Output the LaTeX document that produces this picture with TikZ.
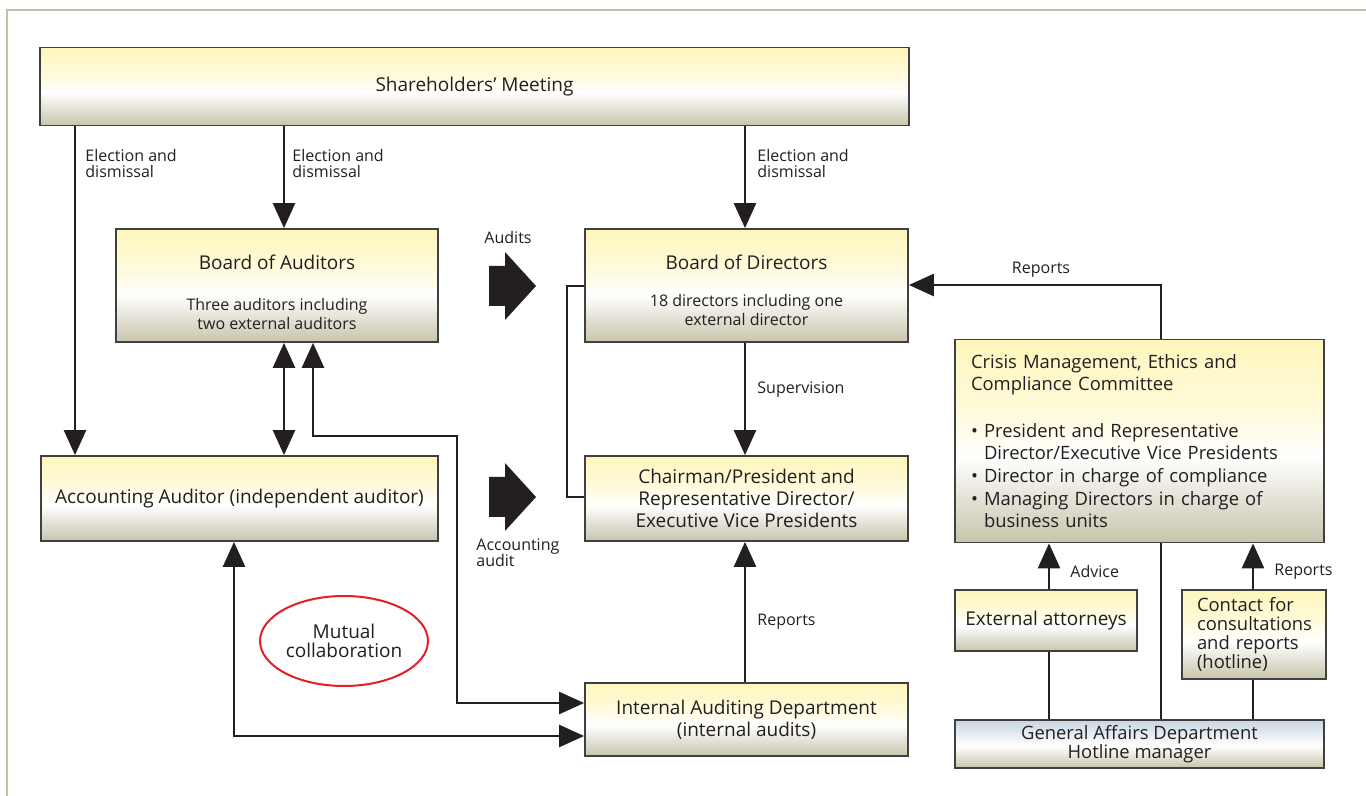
\documentclass[tikz,border=0pt]{standalone}
\usepackage{fontspec}
\setmainfont{Open Sans}
\usetikzlibrary{arrows.meta,shapes.geometric}
\definecolor{boxtop}{RGB}{255,246,188}
\definecolor{boxbot}{RGB}{200,196,172}
\definecolor{gatop}{RGB}{200,214,226}
\definecolor{boxline}{RGB}{64,64,64}
\definecolor{frameline}{RGB}{198,190,170}
\definecolor{mutualred}{RGB}{228,30,38}
\definecolor{ink}{RGB}{35,31,32}
\pgfdeclareverticalshading{boxshade}{100bp}{color(0bp)=(boxbot); color(25bp)=(boxbot); color(46bp)=(white); color(58bp)=(boxtop!55!white); color(75bp)=(boxtop); color(100bp)=(boxtop)}
\pgfdeclareverticalshading{gashade}{100bp}{color(0bp)=(boxbot); color(25bp)=(boxbot); color(48bp)=(white); color(75bp)=(gatop); color(100bp)=(gatop)}
\newcommand\boxfont{\fontsize{9.5}{11}\selectfont}
\newcommand\subfont{\fontsize{8}{9.5}\selectfont}
\newcommand\labfont{\fontsize{8}{8.2}\selectfont}

\begin{document}
\begin{tikzpicture}[x=0.5pt,y=-0.5pt,
  orgbox/.style={draw=boxline,line width=0.9pt,shading=boxshade,inner sep=0pt,font=\boxfont,align=center,text=ink},
  lab/.style={inner sep=0pt,font=\labfont,align=left,text=ink},
  link/.style={draw=ink,line width=1.3pt},
  flow/.style={link,-{Triangle[length=12.5pt,width=11pt]}},
  twoway/.style={link,{Triangle[length=12.5pt,width=11pt]}-{Triangle[length=12.5pt,width=11pt]}}]
\useasboundingbox (0,0) rectangle (1366,796);
\draw[frameline,line width=1pt] (7,796) -- (7,10) -- (1366,10);
% boxes
\node[orgbox,minimum width=434.5pt,minimum height=39pt] (sm) at (474.5,86.5) {Shareholders' Meeting};
\node[orgbox,minimum width=161pt,minimum height=56.5pt,text height=44.5pt,text depth=0pt] (boa) at (277,285.5) {Board of Auditors\\[9.5pt]\subfont Three auditors including\\[-1.5pt]\subfont two external auditors};
\node[orgbox,minimum width=161.5pt,minimum height=56.5pt,text height=40.5pt,text depth=0pt] (bod) at (746.5,285.5) {Board of Directors\\[7.5pt]\subfont 18 directors including one\\[-1.5pt]\subfont external director};
\node[orgbox,minimum width=198.5pt,minimum height=42.5pt] (aa) at (239.5,498.5) {Accounting Auditor (independent auditor)};
\node[orgbox,minimum width=161.5pt,minimum height=42.5pt] (chair) at (746.5,498.5) {Chairman/President and\\Representative Director/\\Executive Vice Presidents};
\node[orgbox,minimum width=161.5pt,minimum height=36.5pt] (iad) at (746.5,719.5) {Internal Auditing Department\\(internal audits)};
\node[orgbox,minimum width=184.5pt,minimum height=101.5pt,align=left,text width=168.5pt,font=\fontsize{9.2}{11.3}\selectfont] (cmc) at (1139.5,441) {Crisis Management, Ethics and\\Compliance Committee\\[12pt]\textbullet\ President and Representative\\\phantom{\textbullet\ }Director/Executive Vice Presidents\\\textbullet\ Director in charge of compliance\\\textbullet\ Managing Directors in charge of\\\phantom{\textbullet\ }business units};
\node[orgbox,minimum width=91pt,minimum height=30.5pt] (ext) at (1046,620.5) {External attorneys};
\node[orgbox,minimum width=72pt,minimum height=44.5pt,align=left,text width=57pt,font=\fontsize{9.2}{9.5}\selectfont] (hot) at (1254,634.5) {Contact for\\consultations\\and reports\\(hotline)};
\node[orgbox,shading=gashade,minimum width=184.5pt,minimum height=24pt,font=\fontsize{9.2}{9.5}\selectfont] (gad) at (1139.5,744) {General Affairs Department\\Hotline manager};
\node[ellipse,draw=mutualred,line width=1pt,minimum width=84pt,minimum height=45pt,inner sep=0pt,align=center,text=ink,font=\fontsize{9.5}{9.5}\selectfont] (mutual) at (344,641) {Mutual\\collaboration};
% turning points of the connectors
\coordinate (colSA) at (75,0);
\coordinate (colSB) at (284,0);
\coordinate (colC) at (745,0);
\coordinate (colE) at (1049,0);
\coordinate (colH) at (1253,0);
\coordinate (turnA) at (313,436);
\coordinate (turnB) at (457,436);
\coordinate (turnC) at (457,703);
\coordinate (turnD) at (234,736);
\coordinate (brTop) at (567,286);
\coordinate (brBot) at (567,497);
\coordinate (repTurn) at (1161,285);
% connectors
\draw[flow] (sm.south -| colSA) -- (aa.north -| colSA);
\draw[flow] (sm.south -| colSB) -- (boa.north -| colSB);
\draw[flow] (sm.south -| colC) -- (bod.north -| colC);
\draw[flow] (bod.south -| colC) -- (chair.north -| colC);
\draw[flow] (iad.north -| colC) -- (chair.south -| colC);
\draw[twoway] (boa.south -| colSB) -- (aa.north -| colSB);
\draw[twoway] (boa.south -| turnA) -- (turnA) -- (turnB) -- (turnC) -- (iad.west |- turnC);
\draw[twoway] (aa.south -| turnD) -- (turnD) -- (iad.west |- turnD);
\draw[link] (bod.west |- brTop) -- (brTop) -- (brBot) -- (chair.west |- brBot);
\draw[flow] (cmc.north -| repTurn) -- (repTurn) -- (bod.east |- repTurn);
\draw[flow] (ext.north -| colE) -- (cmc.south -| colE);
\draw[flow] (hot.north -| colH) -- (cmc.south -| colH);
\draw[link] (gad.north -| colE) -- (ext.south -| colE);
\draw[link] (gad.north -| repTurn) -- (cmc.south -| repTurn);
\draw[link] (gad.north -| colH) -- (hot.south -| colH);
\foreach \yc in {286,497} {\fill[ink] (489,\yc-20) -- (505,\yc-20) -- (505,\yc-34) -- (536,\yc) -- (505,\yc+34) -- (505,\yc+20) -- (489,\yc+20) -- cycle;}
% labels
\node[lab,anchor=north west] (elecA) at (85,149) {Election and\\dismissal};
\node[lab,anchor=north west] (elecB) at (292,149) {Election and\\dismissal};
\node[lab,anchor=north west] (elecC) at (757,149) {Election and\\dismissal};
\node[lab,anchor=west] (superv) at (757,390) {Supervision};
\node[lab,anchor=west] (repIA) at (757,622) {Reports};
\node[lab] (audits) at (508,238) {Audits};
\node[lab,anchor=north west] (accaud) at (476,538) {Accounting\\audit};
\node[lab] (repBD) at (1041,270) {Reports};
\node[lab,anchor=west] (advice) at (1070,572) {Advice};
\node[lab,anchor=west] (repCM) at (1274,572) {Reports};
\end{tikzpicture}
\end{document}
